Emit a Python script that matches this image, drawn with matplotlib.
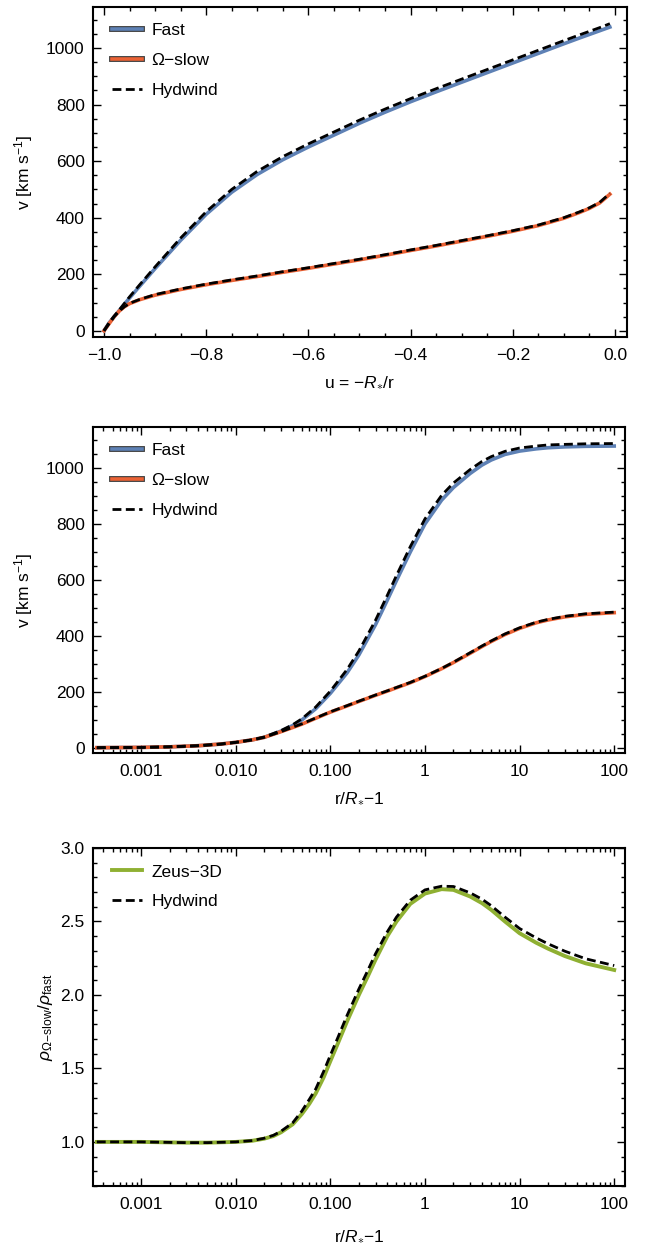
import numpy as np
import matplotlib
matplotlib.use("Agg")
import matplotlib.pyplot as plt
import matplotlib.patheffects as pe
from matplotlib.ticker import MultipleLocator, LogLocator, NullFormatter

plt.rcParams['font.family'] = ['Liberation Sans', 'DejaVu Sans']
plt.rcParams['mathtext.fontset'] = 'custom'
plt.rcParams['mathtext.rm'] = 'Liberation Sans'
plt.rcParams['mathtext.it'] = 'Liberation Sans:italic'
plt.rcParams['font.size'] = 12.5

# --- top panel: velocity against u = -R*/r ---
u_grid = [-1.0, -0.99, -0.98, -0.97, -0.96, -0.95, -0.93, -0.9, -0.85, -0.8,
          -0.75, -0.7, -0.65, -0.6, -0.55, -0.5, -0.45, -0.4, -0.35, -0.3,
          -0.25, -0.2, -0.15, -0.1, -0.07, -0.05, -0.03, -0.01]
v_fast_u = [0, 28, 50, 72, 94, 116, 158, 220, 320, 412,
            490, 553, 605, 650, 692, 734, 773, 810, 845, 879,
            913, 947, 981, 1015, 1035, 1048, 1061, 1074]
v_hyd_fast_u = [0, 29, 52, 74, 97, 120, 163, 226, 328, 421,
                500, 564, 616, 661, 703, 745, 784, 821, 856, 890,
                924, 958, 992, 1026, 1046, 1059, 1072, 1086]
v_slow_u = [0, 25, 50, 70, 85, 96, 110, 126, 146, 163,
            178, 192, 207, 221, 236, 251, 267, 284, 300, 317,
            334, 352, 372, 398, 418, 433, 452, 483]
v_hyd_slow_u = [0, 25, 50, 70, 85, 97, 111, 128, 148, 165,
                180, 194, 209, 223, 238, 253, 269, 286, 302, 319,
                336, 354, 374, 400, 420, 435, 454, 486]

# --- middle panel: velocity against r/R* - 1 ---
x_grid = [3.4e-4, 1e-3, 2e-3, 4e-3, 7e-3, 0.01, 0.015, 0.02, 0.03, 0.04,
          0.05, 0.07, 0.1, 0.15, 0.2, 0.3, 0.4, 0.5, 0.7, 1,
          1.5, 2, 3, 4, 5, 7, 10, 15, 20, 30, 50, 100]
v_fast_x = [1, 2, 4, 8, 14, 20, 29, 38, 60, 80,
            100, 140, 195, 268, 332, 440, 528, 598, 700, 800,
            885, 930, 980, 1010, 1028, 1048, 1060, 1068, 1072, 1075, 1077, 1078]
v_hyd_fast_x = [1, 2, 4, 8, 14, 20, 29, 39, 62, 83,
                104, 146, 203, 280, 346, 456, 545, 616, 719, 818,
                902, 946, 994, 1023, 1040, 1059, 1071, 1078, 1082, 1084, 1086, 1087]
v_slow_x = [1, 2, 4, 8, 14, 20, 29, 38, 58, 73,
            85, 106, 128, 150, 166, 188, 203, 215, 233, 255,
            283, 305, 338, 362, 380, 405, 427, 447, 457, 468, 477, 483]
v_hyd_slow_x = [1, 2, 4, 8, 14, 20, 29, 38, 58, 74,
                86, 107, 129, 151, 167, 189, 204, 216, 234, 256,
                284, 306, 340, 364, 382, 407, 429, 449, 459, 470, 479, 485]

# --- bottom panel: density ratio ---
x_rho = [3.4e-4, 1e-3, 3e-3, 5e-3, 0.01, 0.015, 0.02, 0.025, 0.03, 0.04,
         0.05, 0.06, 0.07, 0.085, 0.1, 0.12, 0.15, 0.2, 0.25, 0.3,
         0.4, 0.5, 0.7, 1, 1.5, 2, 3, 4, 5, 7,
         10, 15, 20, 30, 50, 100]
rho_zeus = [1.0, 1.0, 0.995, 0.995, 1.0, 1.008, 1.022, 1.04, 1.065, 1.12,
            1.19, 1.26, 1.33, 1.44, 1.55, 1.67, 1.82, 2.0, 2.13, 2.24,
            2.4, 2.5, 2.62, 2.69, 2.72, 2.715, 2.67, 2.625, 2.58, 2.5,
            2.42, 2.355, 2.315, 2.265, 2.215, 2.17]
rho_hyd = [1.0, 1.0, 0.995, 0.995, 1.0, 1.009, 1.025, 1.045, 1.072, 1.13,
           1.21, 1.29, 1.36, 1.48, 1.59, 1.71, 1.86, 2.04, 2.17, 2.28,
           2.43, 2.53, 2.645, 2.715, 2.74, 2.738, 2.695, 2.652, 2.608, 2.53,
           2.452, 2.388, 2.348, 2.298, 2.246, 2.2]

c_fast = '#5E81B5'
c_slow = '#EB6235'
c_zeus = '#8FB032'
dash = (3.2, 1.6)

W, H = 655, 1246
fig = plt.figure(figsize=(W / 100, H / 100), dpi=100)


def axes_px(left, top, right, bottom):
    return fig.add_axes([left / W, 1 - bottom / H, (right - left) / W, (bottom - top) / H])


ax1 = axes_px(93, 7, 627, 337)
ax2 = axes_px(93, 427, 625, 753)
ax3 = axes_px(93, 848, 625, 1186)


def style(ax):
    for s in ax.spines.values():
        s.set_linewidth(1.5)
    ax.tick_params(which='both', direction='in', top=True, right=True, width=1.0)
    ax.tick_params(which='major', length=5.5, pad=6)
    ax.tick_params(axis='x', which='major', pad=8)
    ax.tick_params(which='minor', length=3)


def outlined(leg, n):
    for h in leg.legend_handles[:n]:
        h.set_path_effects([pe.Stroke(linewidth=4.2, foreground='#3a3a3a'), pe.Normal()])


leg_kw = dict(loc='upper left', frameon=False, handlelength=1.75, handletextpad=0.55,
              labelspacing=0.85, borderaxespad=0.0, bbox_to_anchor=(0.022, 0.972))

# top panel
ax1.plot(u_grid, v_fast_u, color=c_fast, lw=2.6, label='Fast')
ax1.plot(u_grid, v_slow_u, color=c_slow, lw=2.6, label='Ω−slow')
ax1.plot(u_grid, v_hyd_fast_u, color='k', lw=2.0, dashes=dash, label='Hydwind')
ax1.plot(u_grid, v_hyd_slow_u, color='k', lw=2.0, dashes=dash)
ax1.set_xlim(-1.0215, 0.0235)
ax1.set_ylim(-22, 1145)
ax1.xaxis.set_minor_locator(MultipleLocator(0.05))
ax1.yaxis.set_major_locator(MultipleLocator(200))
ax1.yaxis.set_minor_locator(MultipleLocator(50))
ax1.set_xticks([-1.0, -0.8, -0.6, -0.4, -0.2, 0.0],
               ['−1.0', '−0.8', '−0.6', '−0.4', '−0.2', '0.0'])
ax1.set_xlabel(r'u = −$R_{\ast}$/r', labelpad=8)
ax1.set_ylabel(r'v [km s$^{\mathregular{-1}}$]', labelpad=8)
style(ax1)
leg1 = ax1.legend(**leg_kw)
outlined(leg1, 2)

# middle panel
xticks_log = [1e-3, 1e-2, 1e-1, 1, 10, 100]
xtick_labels = ['0.001', '0.010', '0.100', '1', '10', '100']
ax2.plot(x_grid, v_fast_x, color=c_fast, lw=2.6, label='Fast')
ax2.plot(x_grid, v_slow_x, color=c_slow, lw=2.6, label='Ω−slow')
ax2.plot(x_grid, v_hyd_fast_x, color='k', lw=2.0, dashes=dash, label='Hydwind')
ax2.plot(x_grid, v_hyd_slow_x, color='k', lw=2.0, dashes=dash)
ax2.set_xscale('log')
ax2.set_xlim(3.1e-4, 130)
ax2.set_ylim(-18, 1146)
ax2.set_xticks(xticks_log, xtick_labels)
ax2.xaxis.set_minor_locator(LogLocator(base=10, subs=np.arange(2, 10)))
ax2.xaxis.set_minor_formatter(NullFormatter())
ax2.yaxis.set_major_locator(MultipleLocator(200))
ax2.yaxis.set_minor_locator(MultipleLocator(50))
ax2.set_xlabel(r'r/$R_{\ast}$−1', labelpad=8)
ax2.set_ylabel(r'v [km s$^{\mathregular{-1}}$]', labelpad=8)
style(ax2)
leg2 = ax2.legend(**leg_kw)
outlined(leg2, 2)

# bottom panel
ax3.plot(x_rho, rho_zeus, color=c_zeus, lw=2.8, label='Zeus−3D')
ax3.plot(x_rho, rho_hyd, color='k', lw=2.0, dashes=dash, label='Hydwind')
ax3.set_xscale('log')
ax3.set_xlim(3.1e-4, 130)
ax3.set_ylim(0.7, 3.0)
ax3.set_xticks(xticks_log, xtick_labels)
ax3.xaxis.set_minor_locator(LogLocator(base=10, subs=np.arange(2, 10)))
ax3.xaxis.set_minor_formatter(NullFormatter())
ax3.yaxis.set_major_locator(MultipleLocator(0.5))
ax3.yaxis.set_minor_locator(MultipleLocator(0.1))
ax3.set_xlabel(r'r/$R_{\ast}$−1', labelpad=12)
ax3.set_ylabel(r'$\mathit{\rho}_{\mathregular{\Omega{-}slow}}/\mathit{\rho}_{\mathregular{fast}}$', labelpad=4)
style(ax3)
ax3.legend(**leg_kw)

fig.savefig('out.png', dpi=100)
